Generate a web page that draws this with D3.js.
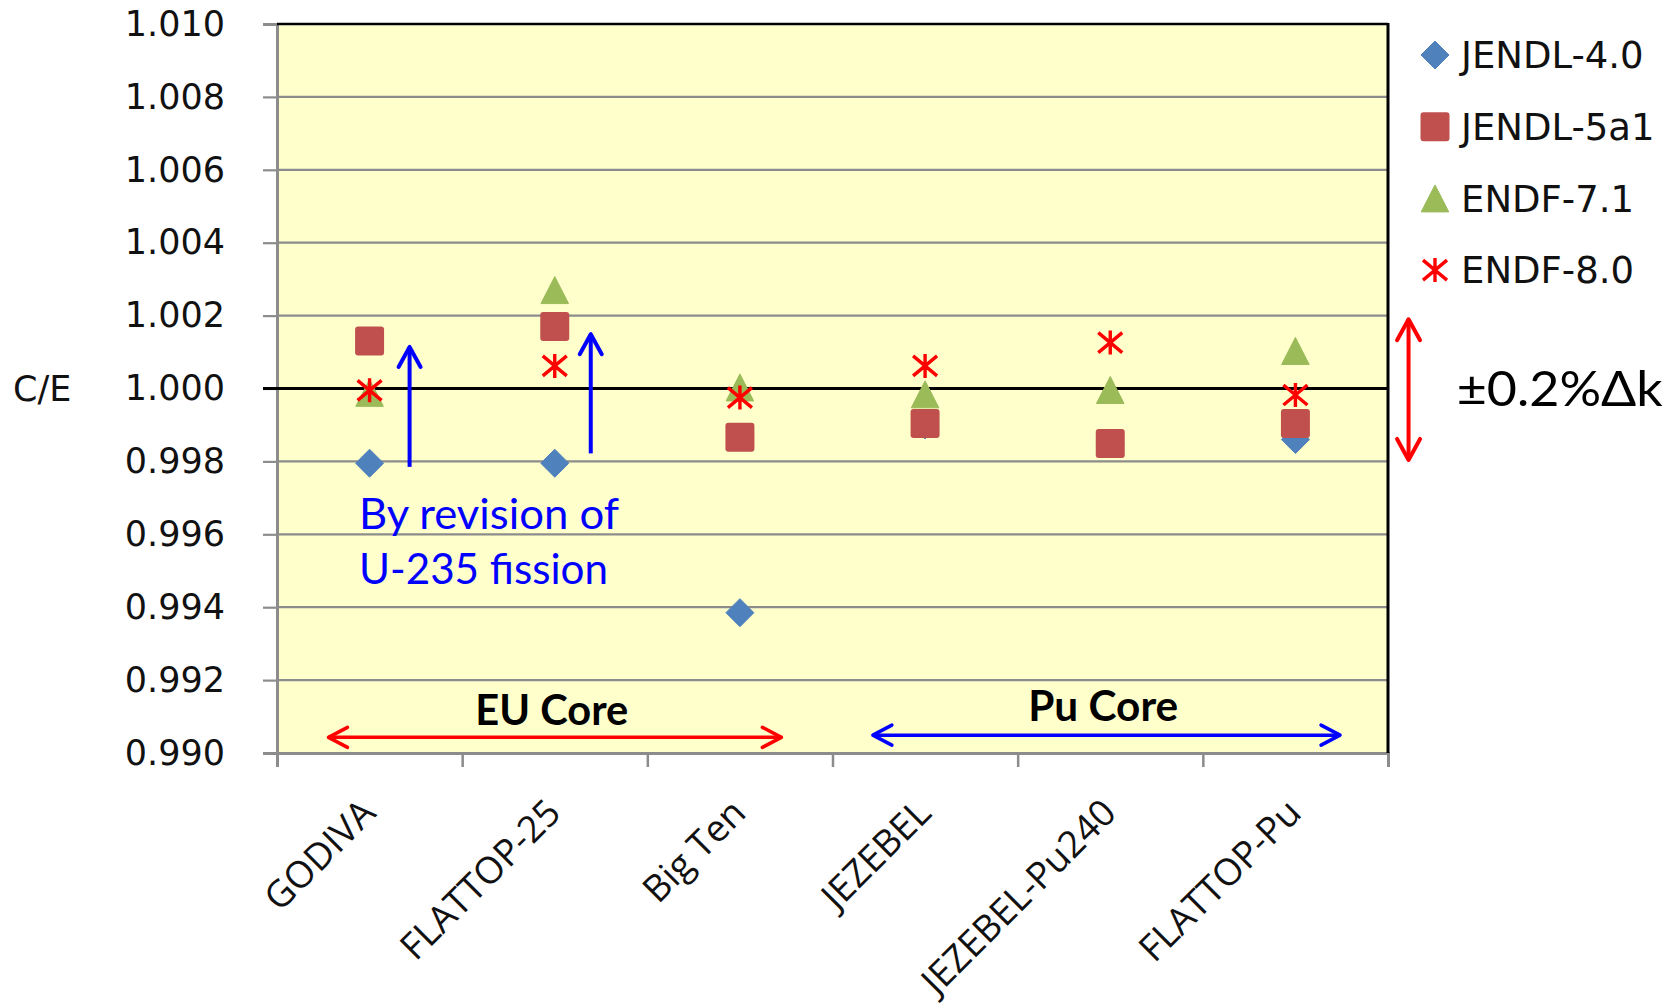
<!DOCTYPE html>
<html>
<head>
<meta charset="utf-8">
<script src="https://cdn.jsdelivr.net/npm/d3@7"></script>
<style>
  body { margin: 0; background: #fff; }
  svg { display: block; }
</style>
</head>
<body>
<div id="chart"></div>
<script>
// benchmark names and C/E values for each library
var cases = ["GODIVA", "FLATTOP-25", "Big Ten", "JEZEBEL", "JEZEBEL-Pu240", "FLATTOP-Pu"];
var jendl40 = [0.99795, 0.99795, 0.99385, 0.99900, 0.99850, 0.99860];
var jendl5a1 = [1.00130, 1.00170, 0.99866, 0.99904, 0.99849, 0.99904];
var endf71 = [0.99988, 1.00270, 1.00003, 0.99984, 0.99996, 1.00103];
var endf80 = [0.99995, 1.00062, 0.99975, 1.00062, 1.00126, 0.99982];
var yTicks = [0.990, 0.992, 0.994, 0.996, 0.998, 1.000, 1.002, 1.004, 1.006, 1.008, 1.010];

var svgWidth = 1679;
var svgHeight = 1006;

var margin = { top: 24, right: 291, bottom: 253, left: 277 };
var chartWidth = svgWidth - margin.left - margin.right;
var chartHeight = svgHeight - margin.top - margin.bottom;

var svg = d3.select("#chart")
  .append("svg")
  .attr("width", svgWidth)
  .attr("height", svgHeight);

var chartGroup = svg.append("g")
  .attr("transform", `translate(${margin.left}, ${margin.top})`);

// scales
var xScale = d3.scaleBand().domain(cases).range([0, chartWidth]).padding(0);
var xIndex = d3.scaleLinear().domain([0, cases.length]).range([0, chartWidth]);
var yScale = d3.scaleLinear().domain([0.990, 1.010]).range([chartHeight, 0]);
var cx = d => xScale(d) + xScale.bandwidth() / 2;

// plot background
chartGroup.append("rect")
  .attr("width", chartWidth)
  .attr("height", chartHeight)
  .attr("fill", "#ffffcc");

// gridlines
chartGroup.append("g")
  .selectAll("line")
  .data(yTicks.filter(t => t > 0.9905 && t < 1.0095 && Math.abs(t - 1) > 1e-6))
  .enter()
  .append("line")
  .attr("x1", 0).attr("x2", chartWidth)
  .attr("y1", d => yScale(d)).attr("y2", d => yScale(d))
  .attr("stroke", "#8c8c8c")
  .attr("stroke-width", 2.2);

// left axis
var leftAxis = d3.axisLeft(yScale)
  .tickValues(yTicks)
  .tickSize(14)
  .tickPadding(38)
  .tickFormat(d3.format(".3f"));

var yAxisG = chartGroup.append("g").call(leftAxis);
yAxisG.select(".domain").attr("stroke", "#8c8c8c").attr("stroke-width", 3);
yAxisG.selectAll(".tick line").attr("stroke", "#8c8c8c").attr("stroke-width", 2.2);
yAxisG.selectAll(".tick text")
  .attr("font-family", "DejaVu Sans, Verdana, sans-serif")
  .attr("font-size", "35px")
  .attr("fill", "#111");

// bottom axis, ticks at category boundaries
var bottomAxis = d3.axisBottom(xIndex)
  .tickValues(d3.range(cases.length + 1))
  .tickSize(14)
  .tickFormat("");
var xAxisG = chartGroup.append("g")
  .attr("transform", `translate(0, ${chartHeight})`)
  .call(bottomAxis);
xAxisG.select(".domain").attr("stroke", "#8c8c8c").attr("stroke-width", 3);
xAxisG.selectAll(".tick line").attr("stroke", "#8c8c8c").attr("stroke-width", 2.5);

// category labels
chartGroup.append("g")
  .selectAll("text")
  .data(cases)
  .enter()
  .append("text")
  .attr("transform", d => `translate(${cx(d) + 8}, ${chartHeight + 62}) rotate(-45)`)
  .attr("text-anchor", "end")
  .attr("font-family", "'Open Sans', 'Noto Sans', sans-serif")
  .attr("font-size", "37px")
  .attr("fill", "#111")
  .text(d => d);

// top and right borders, 1.000 line
chartGroup.append("line")
  .attr("x1", 0).attr("x2", chartWidth)
  .attr("y1", yScale(1.010)).attr("y2", yScale(1.010))
  .attr("stroke", "#000").attr("stroke-width", 2.5);
chartGroup.append("line")
  .attr("x1", chartWidth).attr("x2", chartWidth)
  .attr("y1", yScale(1.010) - 1).attr("y2", chartHeight)
  .attr("stroke", "#000").attr("stroke-width", 3);
chartGroup.append("line")
  .attr("x1", -14).attr("x2", chartWidth)
  .attr("y1", yScale(1.000)).attr("y2", yScale(1.000))
  .attr("stroke", "#000").attr("stroke-width", 2.8);

// marker shapes
var markerPath = {
  diamond: "M0,-14 L14,0 L0,14 L-14,0 Z",
  triangle: "M0,-13.5 L13.8,13.5 L-13.8,13.5 Z",
  star: "M0,-12 V12 M-12,-10 L12,10 M-12,10 L12,-10"
};

var series = [
  { name: "JENDL-4.0", values: jendl40, shape: "diamond", color: "#4f81bd" },
  { name: "JENDL-5a1", values: jendl5a1, shape: "square", color: "#c0504d" },
  { name: "ENDF-7.1", values: endf71, shape: "triangle", color: "#9bbb59" },
  { name: "ENDF-8.0", values: endf80, shape: "star", color: "#ff0000" }
];

function drawMarker(g, shape, color) {
  if (shape === "square") {
    g.append("rect")
      .attr("x", -14.5).attr("y", -14.5)
      .attr("width", 29).attr("height", 29)
      .attr("rx", 3)
      .attr("fill", color);
  } else if (shape === "star") {
    g.append("path")
      .attr("d", markerPath.star)
      .attr("fill", "none")
      .attr("stroke", color)
      .attr("stroke-width", 3.4);
  } else {
    g.append("path")
      .attr("d", markerPath[shape])
      .attr("fill", color)
      .attr("stroke", color)
      .attr("stroke-width", 1)
      .attr("stroke-linejoin", "round");
  }
}

series.forEach(function(s) {
  chartGroup.append("g")
    .selectAll("g")
    .data(s.values)
    .enter()
    .append("g")
    .attr("transform", (d, i) => `translate(${cx(cases[i])}, ${yScale(d)})`)
    .each(function() { drawMarker(d3.select(this), s.shape, s.color); });
});

// arrows (line with open heads)
function arrow(x1, y1, x2, y2, color, width, headLen, headHalf, both) {
  var g = chartGroup.append("g")
    .attr("stroke", color)
    .attr("stroke-width", width)
    .attr("fill", "none")
    .attr("stroke-linecap", "round")
    .attr("stroke-linejoin", "round");
  g.append("line").attr("x1", x1).attr("y1", y1).attr("x2", x2).attr("y2", y2)
    .attr("stroke-linecap", "butt");
  function head(tx, ty, fx, fy) {
    var a = Math.atan2(ty - fy, tx - fx);
    var bx = tx - headLen * Math.cos(a), by = ty - headLen * Math.sin(a);
    var px = -Math.sin(a) * headHalf, py = Math.cos(a) * headHalf;
    g.append("path").attr("d", `M${bx + px},${by + py} L${tx},${ty} L${bx - px},${by - py}`);
  }
  head(x2, y2, x1, y1);
  if (both) head(x1, y1, x2, y2);
}

// blue arrows: effect of U-235 fission revision
arrow(cx("GODIVA") + 40, yScale(0.99785), cx("GODIVA") + 40, yScale(1.00114), "#0000ff", 4, 20, 11, false);
arrow(cx("FLATTOP-25") + 36, yScale(0.99822), cx("FLATTOP-25") + 36, yScale(1.00149), "#0000ff", 4, 20, 11, false);

// core group arrows
arrow(xIndex(0.278), yScale(0.99043), xIndex(2.724), yScale(0.99043), "#ff0000", 3.5, 19, 10, true);
arrow(xIndex(3.218), yScale(0.99049), xIndex(5.741), yScale(0.99049), "#0000ff", 3.5, 19, 10, true);

// +-0.2% band arrow at right
arrow(xIndex(6.111), yScale(0.99804), xIndex(6.111), yScale(1.0019), "#ff0000", 4, 21, 11.5, true);

// text annotations
var noteFont = "Lato, 'Open Sans', sans-serif";
chartGroup.append("text")
  .attr("x", xIndex(0.443)).attr("y", yScale(0.99615))
  .attr("font-family", noteFont).attr("font-size", "42px")
  .attr("fill", "#0000ff")
  .attr("textLength", 260).attr("lengthAdjust", "spacingAndGlyphs")
  .text("By revision of");
chartGroup.append("text")
  .attr("x", xIndex(0.443)).attr("y", yScale(0.99464))
  .attr("font-family", noteFont).attr("font-size", "42px")
  .attr("fill", "#0000ff")
  .attr("textLength", 249).attr("lengthAdjust", "spacingAndGlyphs")
  .text("U-235 fission");

chartGroup.append("text")
  .attr("x", xIndex(1.484)).attr("y", yScale(0.99078))
  .attr("text-anchor", "middle")
  .attr("font-family", noteFont).attr("font-size", "42px").attr("font-weight", "bold")
  .attr("fill", "#000")
  .attr("textLength", 153).attr("lengthAdjust", "spacingAndGlyphs")
  .text("EU Core");
chartGroup.append("text")
  .attr("x", xIndex(4.462)).attr("y", yScale(0.99087))
  .attr("text-anchor", "middle")
  .attr("font-family", noteFont).attr("font-size", "42px").attr("font-weight", "bold")
  .attr("fill", "#000")
  .attr("textLength", 150).attr("lengthAdjust", "spacingAndGlyphs")
  .text("Pu Core");

chartGroup.append("text")
  .attr("x", xIndex(6.371)).attr("y", yScale(0.99951))
  .attr("font-family", noteFont).attr("font-size", "48px")
  .attr("fill", "#000")
  .attr("textLength", 206).attr("lengthAdjust", "spacingAndGlyphs")
  .text("\u00b10.2%\u0394k");

// y axis title
svg.append("text")
  .attr("x", 13)
  .attr("y", margin.top + yScale(1.000))
  .attr("dy", "0.36em")
  .attr("font-family", "DejaVu Sans, Verdana, sans-serif")
  .attr("font-size", "35px")
  .attr("fill", "#111")
  .text("C/E");

// legend
var legend = svg.append("g")
  .attr("transform", "translate(1435, 55)");
var legendRows = legend.selectAll("g")
  .data(series)
  .enter()
  .append("g")
  .attr("transform", (d, i) => `translate(0, ${i * 71.7})`);
legendRows.each(function(d) { drawMarker(d3.select(this), d.shape, d.color); });
legendRows.append("text")
  .attr("x", 26)
  .attr("dy", "0.36em")
  .attr("font-family", "DejaVu Sans, Verdana, sans-serif")
  .attr("font-size", "37px")
  .attr("fill", "#111")
  .text(d => d.name);
</script>
</body>
</html>
